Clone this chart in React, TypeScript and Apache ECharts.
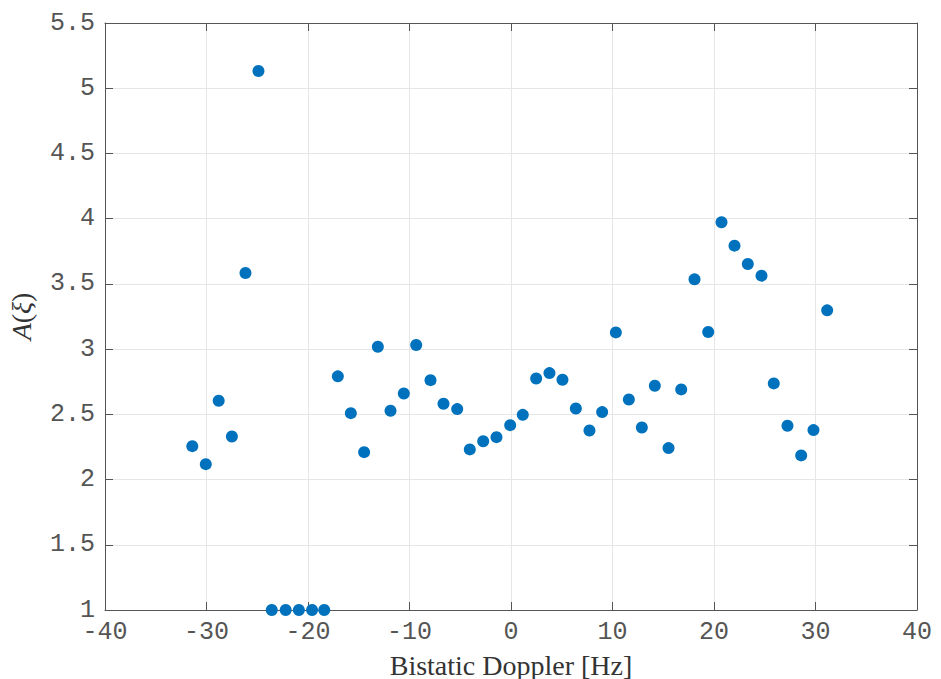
import React, { useEffect, useRef } from "react";
import * as echarts from "echarts";

const dopplerHz: number[] = [
  -31.4, -30.07, -28.8, -27.5, -26.16, -24.88, -23.57, -22.2, -20.9, -19.6, -18.4,
  -17.06, -15.78, -14.47, -13.12, -11.87, -10.56, -9.34, -7.93, -6.65, -5.3, -4.06,
  -2.74, -1.43, -0.08, 1.16, 2.48, 3.79, 5.07, 6.39, 7.73, 8.98, 10.33, 11.61, 12.89,
  14.17, 15.52, 16.77, 18.08, 19.43, 20.74, 22.02, 23.33, 24.68, 25.89, 27.24, 28.59,
  29.8, 31.15,
];
const amplitude: number[] = [
  2.256, 2.118, 2.604, 2.33, 3.584, 5.132, 1, 1, 1, 1, 1,
  2.791, 2.509, 2.21, 3.018, 2.527, 2.66, 3.031, 2.762, 2.581, 2.54, 2.231,
  2.294, 2.325, 2.417, 2.496, 2.775, 2.816, 2.765, 2.545, 2.376, 2.517, 3.128, 2.614, 2.399,
  2.719, 2.241, 2.691, 3.535, 3.131, 3.973, 3.793, 3.653, 3.563, 2.737, 2.412, 2.185,
  2.379, 3.297,
];
const xTicks = { min: -40, max: 40, interval: 10 };
const yTicks = { min: 1, max: 5.5, interval: 0.5 };

const tickFont = {
  fontFamily: "'Liberation Mono', 'DejaVu Sans Mono', monospace",
  fontSize: 25,
  color: "#555555",
};
const serif = "'Liberation Serif', 'DejaVu Serif', serif";
const axisColor = "#555555";

export default function App() {
  const ref = useRef<HTMLDivElement>(null);
  useEffect(() => {
    if (!ref.current) return;
    const chart = echarts.init(ref.current, undefined, { renderer: "svg" });
    const baseX = {
      type: "value" as const,
      min: xTicks.min,
      max: xTicks.max,
      interval: xTicks.interval,
      axisLine: { show: true, onZero: false, lineStyle: { color: axisColor, width: 1 } },
      axisTick: { show: true, inside: true, length: 8, lineStyle: { color: axisColor } },
    };
    const baseY = {
      type: "value" as const,
      min: yTicks.min,
      max: yTicks.max,
      interval: yTicks.interval,
      axisLine: { show: true, onZero: false, lineStyle: { color: axisColor, width: 1 } },
      axisTick: { show: true, inside: true, length: 8, lineStyle: { color: axisColor } },
    };
    chart.setOption({
      animation: false,
      backgroundColor: "#ffffff",
      grid: {
        left: 105,
        right: 24,
        top: 23,
        bottom: 69,
        containLabel: false,
        outerBoundsMode: "none",
      },
      xAxis: [
        {
          ...baseX,
          position: "bottom",
          axisLabel: { ...tickFont, margin: 10, lineHeight: 24 },
          splitLine: { show: true, lineStyle: { color: "#e6e6e6", width: 1 } },
          name: "Bistatic Doppler [Hz]",
          nameLocation: "middle",
          nameGap: 35,
          nameTextStyle: { fontFamily: serif, fontSize: 28, lineHeight: 32, color: "#333333" },
        },
        {
          ...baseX,
          position: "top",
          axisLabel: { show: false },
          splitLine: { show: false },
        },
      ],
      yAxis: [
        {
          ...baseY,
          position: "left",
          axisLabel: { ...tickFont, margin: 10, lineHeight: 18 },
          splitLine: { show: true, lineStyle: { color: "#e6e6e6", width: 1 } },
          name: "{i|A}({i|ξ})",
          nameLocation: "middle",
          nameGap: 70,
          nameRotate: 90,
          nameTextStyle: {
            fontFamily: serif,
            fontSize: 28,
            color: "#333333",
            rich: {
              i: { fontFamily: serif, fontSize: 28, fontStyle: "italic", color: "#333333" },
            },
          },
        },
        {
          ...baseY,
          position: "right",
          axisLabel: { show: false },
          splitLine: { show: false },
        },
      ],
      series: [
        {
          type: "scatter",
          xAxisIndex: 0,
          yAxisIndex: 0,
          symbol: "circle",
          symbolSize: 12,
          itemStyle: { color: "#0072BD", opacity: 1 },
          data: dopplerHz.map((x, i) => [x, amplitude[i]]),
        },
      ],
    });
    return () => chart.dispose();
  }, []);
  return (
    <div
      ref={ref}
      style={{ position: "fixed", left: 0, top: 0, width: 941, height: 679 }}
    />
  );
}
